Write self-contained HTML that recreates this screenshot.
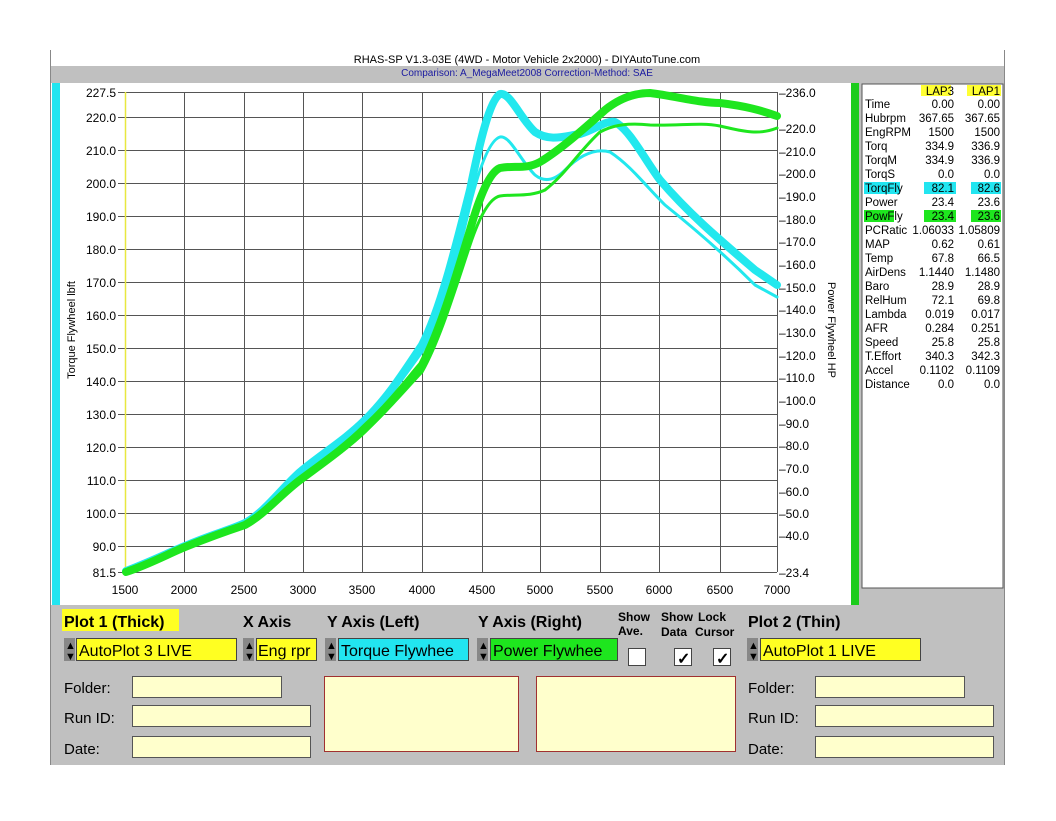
<!DOCTYPE html>
<html><head><meta charset="utf-8"><style>
body{margin:0;background:#fff;font-family:"Liberation Sans",sans-serif;}
</style></head><body>
<svg width="1056" height="816" viewBox="0 0 1056 816" xmlns="http://www.w3.org/2000/svg" font-family="Liberation Sans, sans-serif">
<rect width="1056" height="816" fill="#fff"/>
<line x1="50.5" y1="50" x2="50.5" y2="765" stroke="#888"/>
<line x1="1004.5" y1="50" x2="1004.5" y2="765" stroke="#888"/>
<rect x="51" y="66" width="953" height="17" fill="#c0c0c0"/>
<text x="527" y="63" font-size="11" text-anchor="middle">RHAS-SP  V1.3-03E  (4WD - Motor Vehicle 2x2000) - DIYAutoTune.com</text>
<text x="527" y="76" font-size="10" fill="#1a1aa0" text-anchor="middle">Comparison: A_MegaMeet2008     Correction-Method: SAE</text>
<rect x="52" y="83" width="8" height="522" fill="#22e5f0"/>
<rect x="851" y="83" width="8" height="522" fill="#1ccc1c"/>
<rect x="859" y="83" width="145" height="522" fill="#c0c0c0"/>
<rect x="862" y="84" width="141" height="504" fill="#fff" stroke="#555"/>
<g stroke="#555" stroke-width="1">
<line x1="125" y1="92.5" x2="777" y2="92.5"/>
<line x1="125" y1="117.5" x2="777" y2="117.5"/>
<line x1="125" y1="150.5" x2="777" y2="150.5"/>
<line x1="125" y1="183.5" x2="777" y2="183.5"/>
<line x1="125" y1="216.5" x2="777" y2="216.5"/>
<line x1="125" y1="249.5" x2="777" y2="249.5"/>
<line x1="125" y1="282.5" x2="777" y2="282.5"/>
<line x1="125" y1="315.5" x2="777" y2="315.5"/>
<line x1="125" y1="348.5" x2="777" y2="348.5"/>
<line x1="125" y1="381.5" x2="777" y2="381.5"/>
<line x1="125" y1="414.5" x2="777" y2="414.5"/>
<line x1="125" y1="447.5" x2="777" y2="447.5"/>
<line x1="125" y1="480.5" x2="777" y2="480.5"/>
<line x1="125" y1="513.5" x2="777" y2="513.5"/>
<line x1="125" y1="546.5" x2="777" y2="546.5"/>
<line x1="125" y1="572.5" x2="777" y2="572.5"/>
<line x1="184.5" y1="92" x2="184.5" y2="572"/>
<line x1="244.5" y1="92" x2="244.5" y2="572"/>
<line x1="303.5" y1="92" x2="303.5" y2="572"/>
<line x1="362.5" y1="92" x2="362.5" y2="572"/>
<line x1="422.5" y1="92" x2="422.5" y2="572"/>
<line x1="482.5" y1="92" x2="482.5" y2="572"/>
<line x1="540.5" y1="92" x2="540.5" y2="572"/>
<line x1="600.5" y1="92" x2="600.5" y2="572"/>
<line x1="659.5" y1="92" x2="659.5" y2="572"/>
<line x1="720.5" y1="92" x2="720.5" y2="572"/>
<line x1="777.5" y1="92" x2="777.5" y2="572"/>
<line x1="118" y1="92.5" x2="125" y2="92.5"/><line x1="118" y1="117.5" x2="125" y2="117.5"/><line x1="118" y1="150.5" x2="125" y2="150.5"/><line x1="118" y1="183.5" x2="125" y2="183.5"/><line x1="118" y1="216.5" x2="125" y2="216.5"/><line x1="118" y1="249.5" x2="125" y2="249.5"/><line x1="118" y1="282.5" x2="125" y2="282.5"/><line x1="118" y1="315.5" x2="125" y2="315.5"/><line x1="118" y1="348.5" x2="125" y2="348.5"/><line x1="118" y1="381.5" x2="125" y2="381.5"/><line x1="118" y1="414.5" x2="125" y2="414.5"/><line x1="118" y1="447.5" x2="125" y2="447.5"/><line x1="118" y1="480.5" x2="125" y2="480.5"/><line x1="118" y1="513.5" x2="125" y2="513.5"/><line x1="118" y1="546.5" x2="125" y2="546.5"/><line x1="118" y1="572.5" x2="125" y2="572.5"/>
</g>
<line x1="125.5" y1="92" x2="125.5" y2="572" stroke="#e8e840" stroke-width="1.5"/>
<g font-size="12" text-anchor="end">
<text x="116" y="97">227.5</text><text x="116" y="122">220.0</text><text x="116" y="155">210.0</text><text x="116" y="188">200.0</text><text x="116" y="221">190.0</text><text x="116" y="254">180.0</text><text x="116" y="287">170.0</text><text x="116" y="320">160.0</text><text x="116" y="353">150.0</text><text x="116" y="386">140.0</text><text x="116" y="419">130.0</text><text x="116" y="452">120.0</text><text x="116" y="485">110.0</text><text x="116" y="518">100.0</text><text x="116" y="551">90.0</text><text x="116" y="577">81.5</text>
</g>
<g font-size="12">
<text x="779" y="97">–236.0</text><text x="779" y="133">–220.0</text><text x="779" y="156">–210.0</text><text x="779" y="178">–200.0</text><text x="779" y="201">–190.0</text><text x="779" y="224">–180.0</text><text x="779" y="246">–170.0</text><text x="779" y="269">–160.0</text><text x="779" y="292">–150.0</text><text x="779" y="314">–140.0</text><text x="779" y="337">–130.0</text><text x="779" y="360">–120.0</text><text x="779" y="382">–110.0</text><text x="779" y="405">–100.0</text><text x="779" y="428">–90.0</text><text x="779" y="450">–80.0</text><text x="779" y="473">–70.0</text><text x="779" y="496">–60.0</text><text x="779" y="518">–50.0</text><text x="779" y="540">–40.0</text><text x="779" y="577">–23.4</text>
</g>
<g font-size="12" text-anchor="middle">
<text x="125" y="594">1500</text><text x="184" y="594">2000</text><text x="244" y="594">2500</text><text x="303" y="594">3000</text><text x="362" y="594">3500</text><text x="422" y="594">4000</text><text x="482" y="594">4500</text><text x="540" y="594">5000</text><text x="600" y="594">5500</text><text x="659" y="594">6000</text><text x="720" y="594">6500</text><text x="777" y="594">7000</text>
</g>
<text transform="translate(75,330) rotate(-90)" font-size="11" text-anchor="middle">Torque Flywheel lbft</text>
<text transform="translate(828,330) rotate(90)" font-size="11" text-anchor="middle">Power Flywheel HP</text>
<g fill="none" stroke-linejoin="round" stroke-linecap="round">
<path d="M126,571 C150,562 170,552 185,546 C210,535 230,530 245,523 C265,512 280,490 300,472 C320,455 345,440 365,420 C390,395 405,370 422,345 C440,310 455,250 470,190 C480,140 490,100 500,94 C510,92 520,118 535,132 C550,142 565,136 580,134 C595,130 605,120 615,122 C630,130 645,160 660,180 C690,215 720,240 755,270 L777,285" stroke="#22e8ee" stroke-width="8"/>
<path d="M126,572 C150,562 170,552 185,547 C210,536 230,530 245,524 C265,512 280,492 300,475 C320,458 345,442 365,423 C390,398 405,375 422,352 C440,320 455,270 470,205 C480,165 490,140 500,137 C510,135 520,160 535,175 C545,183 555,180 565,170 C580,155 595,148 610,152 C630,165 645,185 665,205 C690,225 720,250 755,285 L777,297" stroke="#22e8ee" stroke-width="3"/>
<path d="M126,572 C150,564 170,553 185,547 C210,537 230,530 245,525 C265,514 280,495 300,480 C320,465 345,448 365,428 C390,405 405,385 422,365 C440,330 455,280 470,230 C480,195 490,172 500,168 C515,165 525,170 540,162 C560,150 585,128 605,110 C620,98 635,93 650,93 C675,96 700,103 720,103 C745,106 760,110 777,116" stroke="#1ee61e" stroke-width="8"/>
<path d="M126,572 C150,564 170,554 185,548 C210,538 230,531 245,526 C265,515 280,497 300,482 C320,467 345,451 365,432 C390,408 405,390 422,372 C440,340 455,290 470,245 C480,215 490,198 500,196 C515,194 530,197 545,190 C565,175 580,150 600,132 C615,124 630,123 650,125 C680,126 700,122 720,126 C745,132 760,135 777,128" stroke="#1ee61e" stroke-width="3"/>
</g>
<!-- data table -->
<rect x="921" y="85" width="30" height="11" fill="#ffff33"/>
<rect x="967" y="85" width="34" height="11" fill="#ffff33"/>
<rect x="864" y="182" width="36" height="12" fill="#22e5f0"/>
<rect x="924" y="182" width="32" height="12" fill="#22e5f0"/>
<rect x="971" y="182" width="30" height="12" fill="#22e5f0"/>
<rect x="864" y="210" width="30" height="12" fill="#1ee61e"/>
<rect x="924" y="210" width="32" height="12" fill="#1ee61e"/>
<rect x="971" y="210" width="30" height="12" fill="#1ee61e"/>
<g font-size="11.5">
<text x="954" y="95" text-anchor="end">LAP3</text><text x="1000" y="95" text-anchor="end">LAP1</text>
<g>
<text x="865" y="108">Time</text><text x="865" y="122">Hubrpm</text><text x="865" y="136">EngRPM</text><text x="865" y="150">Torq</text><text x="865" y="164">TorqM</text><text x="865" y="178">TorqS</text><text x="865" y="192">TorqFly</text><text x="865" y="206">Power</text><text x="865" y="220">PowFly</text><text x="865" y="234">PCRatic</text><text x="865" y="248">MAP</text><text x="865" y="262">Temp</text><text x="865" y="276">AirDens</text><text x="865" y="290">Baro</text><text x="865" y="304">RelHum</text><text x="865" y="318">Lambda</text><text x="865" y="332">AFR</text><text x="865" y="346">Speed</text><text x="865" y="360">T.Effort</text><text x="865" y="374">Accel</text><text x="865" y="388">Distance</text>
</g>
<g text-anchor="end">
<text x="954" y="108">0.00</text><text x="954" y="122">367.65</text><text x="954" y="136">1500</text><text x="954" y="150">334.9</text><text x="954" y="164">334.9</text><text x="954" y="178">0.0</text><text x="954" y="192">82.1</text><text x="954" y="206">23.4</text><text x="954" y="220">23.4</text><text x="954" y="234">1.06033</text><text x="954" y="248">0.62</text><text x="954" y="262">67.8</text><text x="954" y="276">1.1440</text><text x="954" y="290">28.9</text><text x="954" y="304">72.1</text><text x="954" y="318">0.019</text><text x="954" y="332">0.284</text><text x="954" y="346">25.8</text><text x="954" y="360">340.3</text><text x="954" y="374">0.1102</text><text x="954" y="388">0.0</text>
<text x="1000" y="108">0.00</text><text x="1000" y="122">367.65</text><text x="1000" y="136">1500</text><text x="1000" y="150">336.9</text><text x="1000" y="164">336.9</text><text x="1000" y="178">0.0</text><text x="1000" y="192">82.6</text><text x="1000" y="206">23.6</text><text x="1000" y="220">23.6</text><text x="1000" y="234">1.05809</text><text x="1000" y="248">0.61</text><text x="1000" y="262">66.5</text><text x="1000" y="276">1.1480</text><text x="1000" y="290">28.9</text><text x="1000" y="304">69.8</text><text x="1000" y="318">0.017</text><text x="1000" y="332">0.251</text><text x="1000" y="346">25.8</text><text x="1000" y="360">342.3</text><text x="1000" y="374">0.1109</text><text x="1000" y="388">0.0</text>
</g>
</g>
<!-- bottom panel -->
<rect x="51" y="605" width="953" height="160" fill="#c0c0c0"/>
<rect x="62" y="609" width="117" height="22" fill="#ffff22"/>
<g font-size="16" font-weight="bold">
<text x="64" y="627">Plot 1 (Thick)</text><text x="243" y="627">X Axis</text><text x="327" y="627">Y Axis (Left)</text><text x="478" y="627">Y Axis (Right)</text><text x="748" y="627">Plot 2 (Thin)</text>
</g>
<g font-size="12" font-weight="bold">
<text x="618" y="621">Show</text><text x="618" y="635">Ave.</text><text x="661" y="621">Show</text><text x="661" y="636">Data</text><text x="698" y="621">Lock</text><text x="695" y="636">Cursor</text>
</g>
<g stroke="#444">
<rect x="76.5" y="638.5" width="160" height="22" fill="#ffff22"/>
<rect x="256.5" y="638.5" width="60" height="22" fill="#ffff22"/>
<rect x="338.5" y="638.5" width="130" height="22" fill="#22e5f0"/>
<rect x="490.5" y="638.5" width="127" height="22" fill="#1ee61e"/>
<rect x="760.5" y="638.5" width="160" height="22" fill="#ffff22"/>
<rect x="628.5" y="648.5" width="17" height="17" fill="#fff"/>
<rect x="674.5" y="648.5" width="17" height="17" fill="#fff"/>
<rect x="713.5" y="648.5" width="17" height="17" fill="#fff"/>
</g>
<g fill="#888"><rect x="64" y="638" width="11" height="23"/><rect x="243" y="638" width="11" height="23"/><rect x="325" y="638" width="11" height="23"/><rect x="477" y="638" width="11" height="23"/><rect x="747" y="638" width="11" height="23"/></g>
<g font-size="11" fill="#000"><text x="65" y="649">▲</text><text x="65" y="660">▼</text><text x="244" y="649">▲</text><text x="244" y="660">▼</text><text x="326" y="649">▲</text><text x="326" y="660">▼</text><text x="478" y="649">▲</text><text x="478" y="660">▼</text><text x="748" y="649">▲</text><text x="748" y="660">▼</text></g>
<g font-size="16"><text x="79" y="656">AutoPlot 3 LIVE</text><text x="258" y="656">Eng rpr</text><text x="341" y="656">Torque Flywhee</text><text x="493" y="656">Power Flywhee</text><text x="763" y="656">AutoPlot 1 LIVE</text></g>
<g font-size="16" font-weight="bold"><text x="677" y="664">✓</text><text x="716" y="664">✓</text></g>
<g font-size="15"><text x="64" y="693">Folder:</text><text x="64" y="723">Run ID:</text><text x="64" y="754">Date:</text><text x="748" y="693">Folder:</text><text x="748" y="723">Run ID:</text><text x="748" y="754">Date:</text></g>
<g fill="#ffffcc" stroke="#555">
<rect x="132.5" y="676.5" width="149" height="21"/><rect x="132.5" y="705.5" width="178" height="21"/><rect x="132.5" y="736.5" width="178" height="21"/>
<rect x="815.5" y="676.5" width="149" height="21"/><rect x="815.5" y="705.5" width="178" height="21"/><rect x="815.5" y="736.5" width="178" height="21"/>
<rect x="324.5" y="676.5" width="194" height="75" stroke="#a03030"/><rect x="536.5" y="676.5" width="199" height="75" stroke="#a03030"/>
</g>
</svg>
</body></html>
